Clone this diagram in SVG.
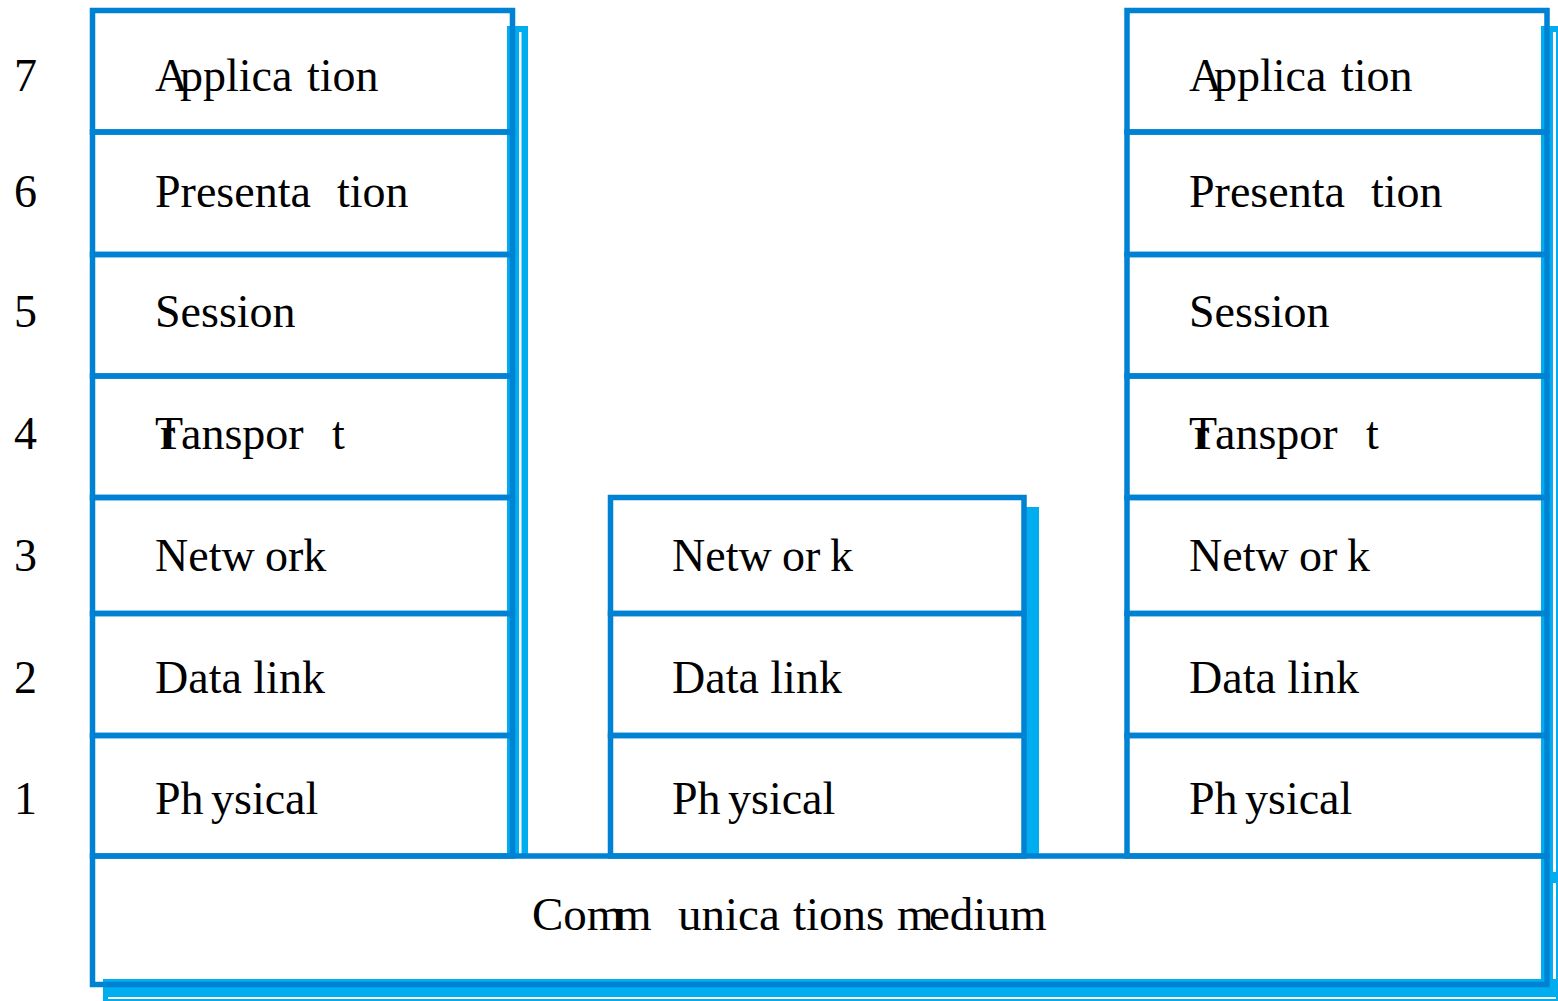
<svg xmlns="http://www.w3.org/2000/svg" width="1558" height="1001" viewBox="0 0 1558 1001">
  <style>
    .cell { fill: none; stroke: #0082D4; stroke-width: 5.5; }
    .shade { fill: #00AEEF; }
    .gap { fill: #FFFFFF; }
    .lbl { font-family: "Liberation Serif", "Times New Roman", serif; font-size: 46px; fill: #000000; }
  </style>
  <rect width="1558" height="1001" fill="#FFFFFF"/>

  <!-- drop shadows behind the stacks and the medium -->
  <g id="shadows">
    <rect class="shade" x="507" y="26" width="21" height="830"/>
    <rect class="gap" x="519" y="32" width="2.5" height="824"/>
    <rect class="shade" x="1026" y="507" width="13" height="349"/>
    <rect class="shade" x="1541" y="26" width="17" height="971"/>
    <rect class="gap" x="1553" y="32" width="3" height="840"/>
    <rect class="gap" x="1553" y="883" width="3" height="116"/>
    <rect class="shade" x="103" y="979" width="1455" height="22"/>
    <rect class="gap" x="108" y="997" width="1448" height="2"/>
  </g>

  <!-- layer numbers -->
  <g id="numbers" class="lbl">
    <text x="14" y="91">7</text>
    <text x="14" y="207">6</text>
    <text x="14" y="327">5</text>
    <text x="14" y="449">4</text>
    <text x="14" y="571">3</text>
    <text x="14" y="693">2</text>
    <text x="14" y="814">1</text>
  </g>

  <!-- left end system: seven layers -->
  <g id="stack-left">
    <g id="left-application">
      <rect class="cell" x="92.5" y="10.5" width="420" height="121.5"/>
      <text class="lbl" y="91"><tspan x="155">A</tspan><tspan x="180">pplica</tspan><tspan x="307">tion</tspan></text>
    </g>
    <g id="left-presentation">
      <rect class="cell" x="92.5" y="132" width="420" height="122.5"/>
      <text class="lbl" y="207"><tspan x="155">Presenta</tspan><tspan x="337">tion</tspan></text>
    </g>
    <g id="left-session">
      <rect class="cell" x="92.5" y="254.5" width="420" height="121.5"/>
      <text class="lbl" x="155" y="327">Session</text>
    </g>
    <g id="left-transport">
      <rect class="cell" x="92.5" y="376" width="420" height="121.5"/>
      <text class="lbl" y="449"><tspan x="155">T</tspan><tspan x="160">r</tspan><tspan x="181">anspor</tspan><tspan x="332">t</tspan></text>
    </g>
    <g id="left-network">
      <rect class="cell" x="92.5" y="497.5" width="420" height="116"/>
      <text class="lbl" y="571"><tspan x="155">Netw</tspan><tspan x="265">ork</tspan></text>
    </g>
    <g id="left-datalink">
      <rect class="cell" x="92.5" y="613.5" width="420" height="122"/>
      <text class="lbl" x="155" y="693">Data link</text>
    </g>
    <g id="left-physical">
      <rect class="cell" x="92.5" y="735.5" width="420" height="120.5"/>
      <text class="lbl" y="814"><tspan x="155">Ph</tspan><tspan x="211">ysical</tspan></text>
    </g>
  </g>

  <!-- intermediate node: three layers -->
  <g id="stack-middle">
    <g id="middle-network">
      <rect class="cell" x="610.5" y="497.5" width="413.5" height="116"/>
      <text class="lbl" y="571"><tspan x="672">Netw</tspan><tspan x="782">or</tspan><tspan x="830">k</tspan></text>
    </g>
    <g id="middle-datalink">
      <rect class="cell" x="610.5" y="613.5" width="413.5" height="122"/>
      <text class="lbl" x="672" y="693">Data link</text>
    </g>
    <g id="middle-physical">
      <rect class="cell" x="610.5" y="735.5" width="413.5" height="120.5"/>
      <text class="lbl" y="814"><tspan x="672">Ph</tspan><tspan x="728">ysical</tspan></text>
    </g>
  </g>

  <!-- right end system: seven layers -->
  <g id="stack-right">
    <g id="right-application">
      <rect class="cell" x="1127" y="10.5" width="420" height="121.5"/>
      <text class="lbl" y="91"><tspan x="1189">A</tspan><tspan x="1214">pplica</tspan><tspan x="1341">tion</tspan></text>
    </g>
    <g id="right-presentation">
      <rect class="cell" x="1127" y="132" width="420" height="122.5"/>
      <text class="lbl" y="207"><tspan x="1189">Presenta</tspan><tspan x="1371">tion</tspan></text>
    </g>
    <g id="right-session">
      <rect class="cell" x="1127" y="254.5" width="420" height="121.5"/>
      <text class="lbl" x="1189" y="327">Session</text>
    </g>
    <g id="right-transport">
      <rect class="cell" x="1127" y="376" width="420" height="121.5"/>
      <text class="lbl" y="449"><tspan x="1189">T</tspan><tspan x="1194">r</tspan><tspan x="1215">anspor</tspan><tspan x="1366">t</tspan></text>
    </g>
    <g id="right-network">
      <rect class="cell" x="1127" y="497.5" width="420" height="116"/>
      <text class="lbl" y="571"><tspan x="1189">Netw</tspan><tspan x="1299">or</tspan><tspan x="1347">k</tspan></text>
    </g>
    <g id="right-datalink">
      <rect class="cell" x="1127" y="613.5" width="420" height="122"/>
      <text class="lbl" x="1189" y="693">Data link</text>
    </g>
    <g id="right-physical">
      <rect class="cell" x="1127" y="735.5" width="420" height="120.5"/>
      <text class="lbl" y="814"><tspan x="1189">Ph</tspan><tspan x="1245">ysical</tspan></text>
    </g>
  </g>

  <!-- shared medium along the bottom -->
  <g id="medium">
    <rect class="cell" x="92.5" y="856" width="1454.5" height="128.5"/>
    <text class="lbl" y="930" style="font-size:47px"><tspan x="532">Com</tspan><tspan x="615">m</tspan><tspan x="678">unica</tspan><tspan x="793">tions</tspan><tspan x="897">m</tspan><tspan x="929">edium</tspan></text>
  </g>

  <!-- no connectors: layers touch directly -->
  <g id="connectors"/>
</svg>
